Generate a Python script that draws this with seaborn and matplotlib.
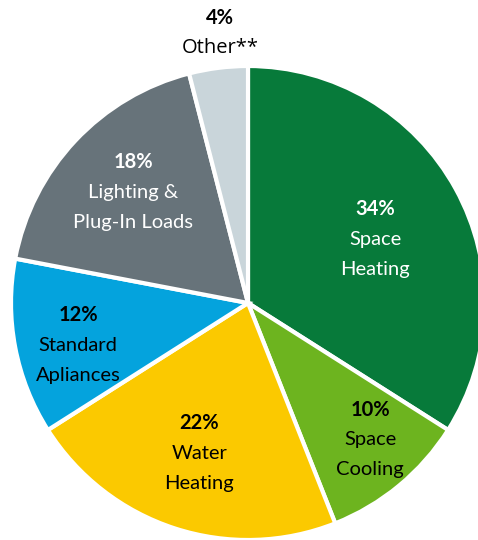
import numpy as np
import matplotlib
matplotlib.use("Agg")
import matplotlib.pyplot as plt
import seaborn as sns

# Residential energy end-use shares
categories = ["Space\nHeating", "Space\nCooling", "Water\nHeating",
              "Standard\nApliances", "Lighting &\nPlug-In Loads", "Other**"]
shares = [34, 10, 22, 12, 18, 4]
colors = ["#077a3a", "#6db41f", "#fbc900", "#04a3dd", "#67737a", "#c9d5da"]
text_colors = ["white", "black", "black", "black", "white", "black"]
# label placement: fraction of radius, angular nudge (deg) from wedge middle
label_radius = [0.60, 0.774, 0.666, 0.739, 0.674, 1.145]
label_nudge = [-2.1, 2.1, 0.0, 3.1, -0.8, -1.3]

sns.set_theme(style="white")
plt.rcParams["font.family"] = ["Lato", "DejaVu Sans"]

W, H = 478, 540
fig = plt.figure(figsize=(W / 100, H / 100), dpi=100)
ax = fig.add_axes([0, 0, 1, 1])

cx, cy, R = 248, H - 303, 237
wedges, _ = ax.pie(shares, colors=colors, startangle=90, counterclock=False,
                   center=(cx, cy), radius=R, frame=True,
                   wedgeprops=dict(edgecolor="white", linewidth=3))
ax.set_xlim(0, W)
ax.set_ylim(0, H)
ax.set_aspect("equal")
ax.axis("off")

for i_w, (w, cat, val, tc, rf, dt) in enumerate(
        zip(wedges, categories, shares, text_colors, label_radius, label_nudge)):
    mid = np.deg2rad((w.theta1 + w.theta2) / 2 + dt)
    x = cx + rf * R * np.cos(mid)
    y = cy + rf * R * np.sin(mid)
    block = [f"{val}%"] + cat.split("\n")
    step = 30
    top = y + step * (len(block) - 1) / 2
    outside = rf > 1
    for i, line in enumerate(block):
        ax.text(x, top - i * step, line, ha="center", va="center",
                color=tc, fontsize=14.5,
                family=["Open Sans", "DejaVu Sans"] if (outside and i > 0) else None,
                fontweight="bold" if i == 0 else "normal")

fig.savefig("out.png", dpi=100)
